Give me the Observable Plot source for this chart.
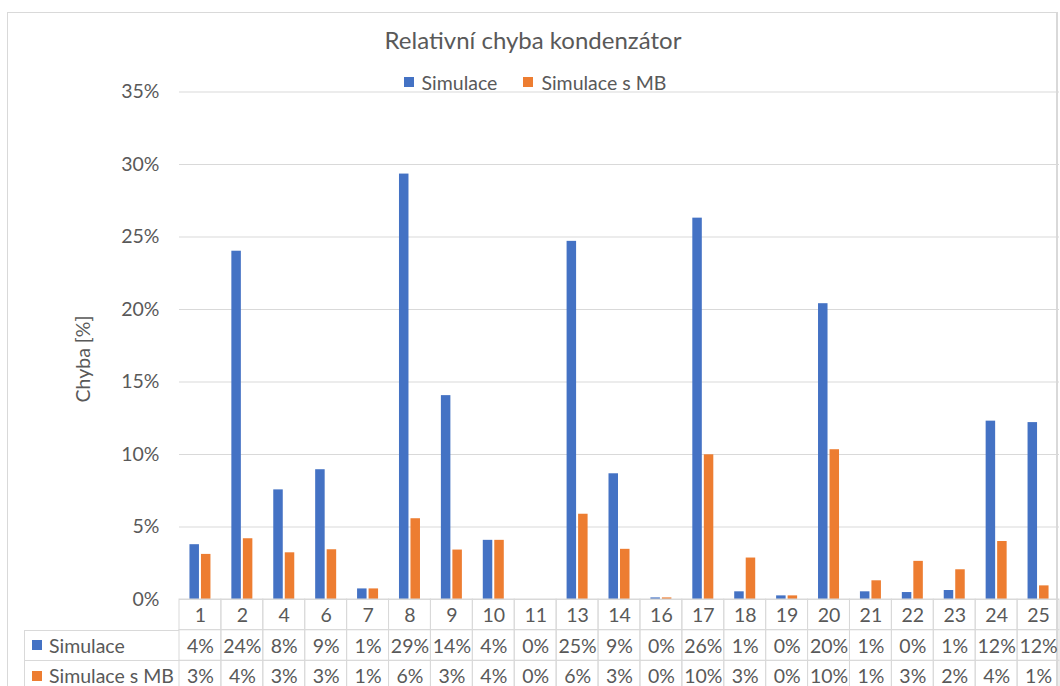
<!DOCTYPE html>
<html>
<head>
<meta charset="utf-8">
<script src="https://cdn.jsdelivr.net/npm/d3@7"></script>
<script src="https://cdn.jsdelivr.net/npm/@observablehq/plot@0.6"></script>
<style>
  html, body { margin: 0; padding: 0; background: #fff; overflow: hidden; }
  body { width: 1060px; height: 686px; position: relative; font-family: Lato, "Open Sans", sans-serif; color: #595959; }
  #frame { position: absolute; left: 7px; top: 12px; width: 1051px; height: 700px; border: 1px solid #d9d9d9; box-sizing: border-box; border-right-width: 2px; }
  #title { position: absolute; left: 7px; width: 1052px; top: 25px; text-align: center; font-size: 24px; line-height: 30px; }
  #legend { position: absolute; left: 5px; width: 1060px; top: 70px; height: 24px; display: flex; justify-content: center; align-items: center; font-size: 19.5px; }
  .key { display: inline-block; width: 10px; height: 10px; margin-right: 8px; }
  .item { display: flex; align-items: center; margin: 0 13px; }
  #ylabel { position: absolute; left: 82px; top: 359px; transform: translate(-50%, -50%) rotate(-90deg); font-size: 19.5px; white-space: nowrap; }
  #main { position: absolute; left: 0; top: 60px; }
  #table { position: absolute; left: 0; top: 599px; }
  .rowhead { position: absolute; left: 24px; width: 155px; border-top: 1px solid #d9d9d9; border-left: 1px solid #d9d9d9; box-sizing: border-box; display: flex; align-items: center; font-size: 19.5px; white-space: nowrap; }
  .rowhead .key { margin-left: 7px; margin-right: 7px; }
</style>
</head>
<body>
<div id="frame"></div>
<div id="title"></div>
<div id="legend"></div>
<div id="ylabel"></div>
<div id="main"></div>
<div id="table"></div>
<div id="rowheads"></div>
<script>
// ---- data ----
const titleText = "Relativní chyba kondenzátor";
const yLabel = "Chyba [%]";
const categories = ["1","2","4","6","7","8","9","10","11","13","14","16","17","18","19","20","21","22","23","24","25"];
const simulace   = [3.78, 24.02, 7.56, 8.95, 0.73, 29.34, 14.06, 4.08, 0, 24.7, 8.67, 0.11, 26.3, 0.53, 0.25, 20.4, 0.53, 0.48, 0.62, 12.3, 12.2];
const simulaceMB = [3.11, 4.19, 3.22, 3.43, 0.73, 5.57, 3.41, 4.08, 0, 5.88, 3.46, 0.11, 9.98, 2.86, 0.25, 10.33, 1.29, 2.63, 2.05, 4.0, 0.94];
const seriesNames = ["Simulace", "Simulace s MB"];
const seriesColors = ["#4472C4", "#ED7D31"];
const yTicks = [0, 5, 10, 15, 20, 25, 30, 35];

// ---- derived table ----
const rows = categories.map((c, i) => ({cat: c, sim: simulace[i], mb: simulaceMB[i]}));
const fmt = v => Math.round(v) + "%";
const tableRows = ["cat", ...seriesNames];

// ---- header ----
document.getElementById("title").textContent = titleText;
document.getElementById("ylabel").textContent = yLabel;
const legend = document.getElementById("legend");
seriesNames.forEach((name, i) => {
  const it = document.createElement("span");
  it.className = "item";
  it.innerHTML = `<span class="key" style="background:${seriesColors[i]}"></span><span>${name}</span>`;
  legend.appendChild(it);
});

const W = 1060, ML = 179, MR = 1;
const colW = (W - ML - MR) / categories.length;
const barW = 9.5, gap = 2;
const outer = (colW - 2 * barW - gap) / 2;

// ---- main chart ----
const main = Plot.plot({
  width: W,
  height: 539,
  marginLeft: ML,
  marginRight: MR,
  marginTop: 31.5,
  marginBottom: 0,
  style: {fontFamily: "Lato, 'Open Sans', sans-serif", fontSize: "19.5px", color: "#595959", background: "transparent", overflow: "visible"},
  x: {domain: categories, padding: 0, round: false, axis: null},
  y: {domain: [0, 35], ticks: yTicks, tickFormat: d => d + "%", tickSize: 0, tickPadding: 20, label: null},
  marks: [
    Plot.gridY(yTicks, {stroke: "#d9d9d9", strokeOpacity: 1}),
    Plot.barY(rows, {x: "cat", y: "sim", fill: seriesColors[0], insetLeft: outer, insetRight: outer + barW + gap}),
    Plot.barY(rows, {x: "cat", y: "mb", fill: seriesColors[1], insetLeft: outer + barW + gap, insetRight: outer}),
    Plot.ruleY([0], {stroke: "#d9d9d9"})
  ]
});
document.getElementById("main").appendChild(main);

// ---- data table ----
const cells = [];
rows.forEach(r => {
  cells.push({cat: r.cat, row: "cat", text: r.cat});
  cells.push({cat: r.cat, row: seriesNames[0], text: fmt(r.sim)});
  cells.push({cat: r.cat, row: seriesNames[1], text: fmt(r.mb)});
});
const rowH = 30.6;
const table = Plot.plot({
  width: W,
  height: Math.round(rowH * 3),
  marginLeft: ML,
  marginRight: MR,
  marginTop: 0,
  marginBottom: 0,
  style: {fontFamily: "Lato, 'Open Sans', sans-serif", fontSize: "19.5px", color: "#595959", background: "transparent", overflow: "visible"},
  x: {domain: categories, padding: 0, round: false, axis: null},
  y: {domain: tableRows, padding: 0, round: false, axis: null},
  marks: [
    Plot.cell(cells, {x: "cat", y: "row", fill: "none", stroke: "#d9d9d9", inset: 0}),
    Plot.text(cells, {x: "cat", y: "row", text: "text", fill: "#595959", fontSize: 19.5, dy: 1})
  ]
});
document.getElementById("table").appendChild(table);

// ---- row headers ----
const rh = document.getElementById("rowheads");
seriesNames.forEach((name, i) => {
  const d = document.createElement("div");
  d.className = "rowhead";
  d.style.top = (599 + rowH * (i + 1)) + "px";
  d.style.height = rowH + "px";
  d.innerHTML = `<span class="key" style="background:${seriesColors[i]}"></span><span>${name}</span>`;
  rh.appendChild(d);
});
</script>
</body>
</html>
